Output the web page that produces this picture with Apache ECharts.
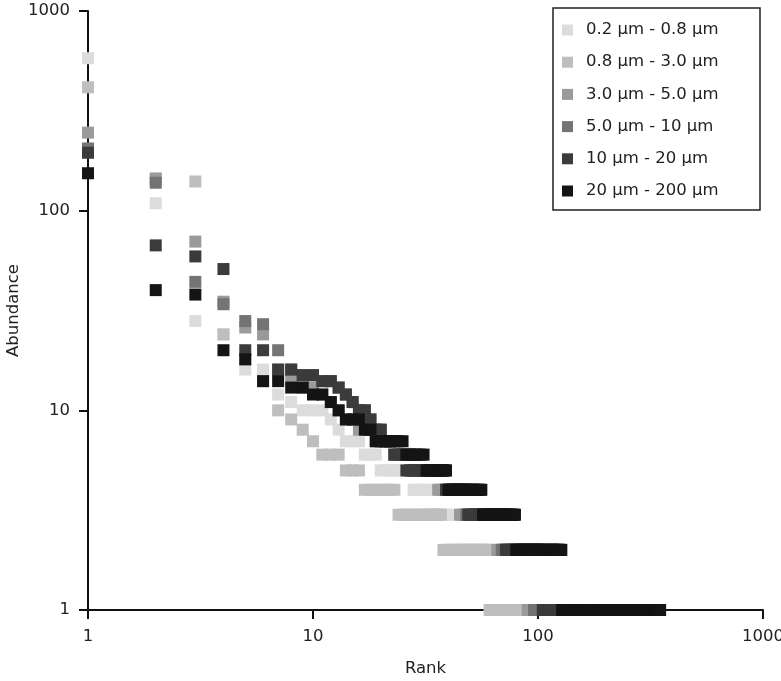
<!DOCTYPE html>
<html>
<head>
<meta charset="utf-8">
<script src="https://cdn.jsdelivr.net/npm/echarts@6/dist/echarts.min.js"></script>
<style>
  html, body { margin: 0; padding: 0; background: #fff; }
  #main { width: 781px; height: 681px; }
</style>
</head>
<body>
<div id="main"></div>
<script>
// rank-abundance runs, one row per abundance value: [abundance, firstRank, lastRank]
var runs_02_08 = [[580,1,1],[109,2,2],[28,3,3],[24,4,4],[16,5,6],[12,7,7],[11,8,8],[10,9,11],[9,12,12],[8,13,13],[7,14,16],[6,17,19],[5,20,27],[4,28,32],[3,33,40],[2,41,60],[1,61,140]];
var runs_08_30 = [[415,1,1],[142,2,2],[140,3,3],[24,4,4],[18,5,5],[14,6,6],[10,7,7],[9,8,8],[8,9,9],[7,10,10],[6,11,13],[5,14,16],[4,17,23],[3,24,37],[2,38,60],[1,61,160]];
var runs_30_50 = [[246,1,1],[145,2,2],[70,3,3],[35,4,4],[26,5,5],[24,6,6],[16,7,7],[14,8,8],[13,9,10],[12,11,11],[11,12,12],[10,13,13],[9,14,15],[8,16,18],[7,19,22],[6,23,26],[5,27,35],[4,36,44],[3,45,65],[2,66,89],[1,90,180]];
var runs_50_10 = [[205,1,1],[138,2,2],[44,3,3],[34,4,4],[28,5,5],[27,6,6],[20,7,7],[16,8,8],[15,9,10],[14,11,12],[13,13,13],[12,14,14],[11,15,15],[10,16,17],[9,18,18],[8,19,20],[7,21,22],[6,23,27],[5,28,39],[4,40,47],[3,48,68],[2,69,95],[1,96,200]];
var runs_10_20 = [[195,1,1],[67,2,2],[59,3,3],[51,4,4],[20,5,6],[16,7,8],[15,9,10],[14,11,12],[13,13,13],[12,14,14],[11,15,15],[10,16,17],[9,18,18],[8,19,20],[7,21,22],[6,23,25],[5,26,38],[4,39,48],[3,49,71],[2,72,104],[1,105,260]];
var runs_20_200 = [[154,1,1],[40,2,2],[38,3,3],[20,4,4],[18,5,5],[14,6,7],[13,8,9],[12,10,11],[11,12,12],[10,13,13],[9,14,16],[8,17,18],[7,19,25],[6,26,31],[5,32,39],[4,40,56],[3,57,79],[2,80,127],[1,128,349]];

var seriesNames = ['0.2 µm - 0.8 µm', '0.8 µm - 3.0 µm', '3.0 µm - 5.0 µm', '5.0 µm - 10 µm', '10 µm - 20 µm', '20 µm - 200 µm'];
var seriesRuns = [runs_02_08, runs_08_30, runs_30_50, runs_50_10, runs_10_20, runs_20_200];
var seriesColors = ['#dcdcdc', '#bebebe', '#9a9a9a', '#747474', '#3b3b3b', '#141414'];
var rankTicks = [1, 10, 100, 1000];
var abundanceTicks = [1, 10, 100, 1000];

// one point per rank
function toPoints(runs) {
	var arr = [];
	runs.forEach(function(run) {
		for(var r = run[1]; r <= run[2]; r++) {
			arr.push([r, run[0]]);
		}
	});
	return arr;
}

var textC = '#222';
var fontF = 'DejaVu Sans';

var series = [];
seriesNames.forEach(function(name, i) {
	series.push({
		name: name,
		type: 'scatter',
		symbol: 'rect',
		symbolSize: 12,
		clip: false,
		itemStyle: { color: seriesColors[i], opacity: 1 },
		data: toPoints(seriesRuns[i])
	});
});

function plainLabel(value) {
	return String(Math.round(value));
}

var myChart = echarts.init(document.getElementById('main'), null, { renderer: 'canvas' });
myChart.setOption({
	animation: false,
	grid: { left: 88, right: 18, top: 11, bottom: 71, containLabel: false, outerBoundsMode: 'none' },
	color: seriesColors,
	graphic: [{
		type: 'rect',
		z: 1,
		shape: { x: 553, y: 8, width: 207, height: 202 },
		style: { fill: 'none', stroke: '#222', lineWidth: 1.5 }
	}],
	legend: {
		orient: 'vertical',
		left: 562,
		top: 20,
		padding: 0,
		itemWidth: 11,
		itemHeight: 11,
		itemGap: 12.2,
		icon: 'rect',
		data: seriesNames,
		textStyle: { fontFamily: fontF, fontSize: 16.5, lineHeight: 20, color: textC, padding: [0, 0, 0, 8] }
	},
	xAxis: {
		type: 'log',
		logBase: 10,
		min: rankTicks[0],
		max: rankTicks[rankTicks.length - 1],
		name: 'Rank',
		nameLocation: 'middle',
		nameGap: 50,
		nameMoveOverlap: false,
		nameTextStyle: { fontFamily: fontF, fontSize: 16.5, color: textC },
		axisLine: { lineStyle: { color: '#111', width: 2 } },
		axisTick: { length: 9, lineStyle: { color: '#111', width: 2 } },
		minorTick: { show: false },
		splitLine: { show: false },
		axisLabel: { fontFamily: fontF, fontSize: 16.5, color: textC, margin: 18, formatter: plainLabel }
	},
	yAxis: {
		type: 'log',
		logBase: 10,
		min: abundanceTicks[0],
		max: abundanceTicks[abundanceTicks.length - 1],
		name: 'Abundance',
		nameLocation: 'middle',
		nameGap: 66,
		nameMoveOverlap: false,
		nameTextStyle: { fontFamily: fontF, fontSize: 16.5, color: textC },
		axisLine: { lineStyle: { color: '#111', width: 2 } },
		axisTick: { length: 9, lineStyle: { color: '#111', width: 2 } },
		minorTick: { show: false },
		splitLine: { show: false },
		axisLabel: { fontFamily: fontF, fontSize: 16.5, color: textC, margin: 18, formatter: plainLabel }
	},
	series: series
});
</script>
</body>
</html>
